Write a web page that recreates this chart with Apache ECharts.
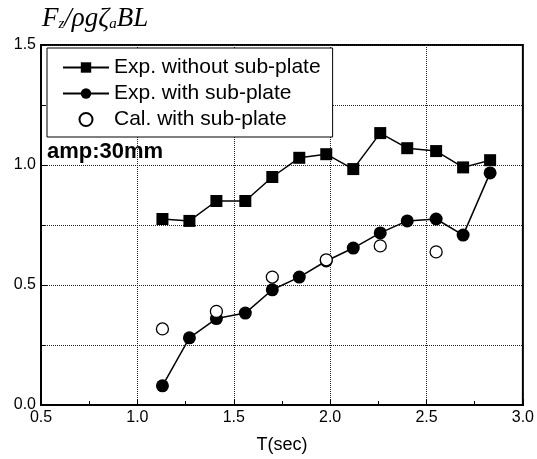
<!DOCTYPE html>
<html>
<head>
<meta charset="utf-8">
<script src="https://cdn.jsdelivr.net/npm/echarts@6/dist/echarts.min.js"></script>
<style>
  html, body { margin: 0; padding: 0; background: #fff; }
  #chart { width: 537px; height: 459px; }
</style>
</head>
<body>
<div id="chart"></div>
<script>
// periods T (sec) of the experiments
var periods = [1.13, 1.27, 1.41, 1.56, 1.70, 1.84, 1.98, 2.12, 2.26, 2.40, 2.55, 2.69, 2.83];
var expWithout = [0.775, 0.767, 0.85, 0.85, 0.95, 1.03, 1.045, 0.983, 1.133, 1.07, 1.058, 0.99, 1.02];
var expWith = [0.08, 0.28, 0.36, 0.383, 0.48, 0.533, 0.60, 0.654, 0.717, 0.767, 0.775, 0.708, 0.967];
// calculation only at some periods
var calPeriods = [1.13, 1.41, 1.70, 1.98, 2.26, 2.55];
var calWith = [0.317, 0.39, 0.533, 0.605, 0.663, 0.638];

var seriesNames = ['Exp. without sub-plate', 'Exp. with sub-plate', 'Cal. with sub-plate'];

function pairs(xs, ys) {
    return xs.map(function (x, i) { return [x, ys[i]]; });
}

var font = 'Liberation Sans, Arial, sans-serif';
var serif = 'Liberation Serif, DejaVu Serif, serif';
var myChart = echarts.init(document.getElementById('chart'));

var option = {
    animation: false,
    backgroundColor: '#fff',
    title: {
        left: 37,
        top: 0,
        text: '{i|F}{s|z}{i|/ρgζ}{s|a}{i|BL}',
        textStyle: {
            rich: {
                i: { fontFamily: serif, fontStyle: 'italic', fontWeight: 'normal', fontSize: 27, color: '#000' },
                s: { fontFamily: serif, fontStyle: 'italic', fontWeight: 'normal', fontSize: 15, color: '#000', verticalAlign: 'bottom', padding: [11, 0, 0, 0] }
            }
        }
    },
    grid: {
        left: 41, top: 45, right: 14, bottom: 54,
        show: true,
        borderColor: '#000',
        borderWidth: 2
    },
    legend: {
        data: seriesNames,
        orient: 'vertical',
        left: 47,
        top: 48,
        padding: [9, 12, 7, 15],
        itemGap: 5,
        itemWidth: 46,
        itemHeight: 13,
        backgroundColor: '#fff',
        borderColor: '#000',
        borderWidth: 1,
        textStyle: { fontFamily: font, fontSize: 21, color: '#000' }
    },
    graphic: [{
        type: 'text',
        left: 47,
        top: 141,
        style: { text: 'amp:30mm', font: 'bold 22px Liberation Sans, Arial, sans-serif', fill: '#000' }
    }],
    xAxis: {
        type: 'value',
        min: 0.5,
        max: 3.0,
        interval: 0.5,
        name: 'T(sec)',
        nameLocation: 'middle',
        nameGap: 31,
        nameTextStyle: { fontFamily: font, fontSize: 18, color: '#000' },
        axisLine: { show: true, lineStyle: { color: '#000', width: 2 } },
        axisTick: { inside: true, length: 6, lineStyle: { color: '#000' } },
        minorTick: { show: true, splitNumber: 2, length: 4, lineStyle: { color: '#000' } },
        axisLabel: {
            fontFamily: font, fontSize: 16, color: '#000', margin: 5,
            formatter: function (v) { return v.toFixed(1); }
        },
        splitLine: { show: true, lineStyle: { type: 'dotted', color: '#222', width: 1 } }
    },
    yAxis: {
        type: 'value',
        min: 0,
        max: 1.5,
        interval: 0.5,
        axisLine: { show: true, lineStyle: { color: '#000', width: 2 } },
        axisTick: { inside: true, length: 6, lineStyle: { color: '#000' } },
        minorTick: { show: true, splitNumber: 2, length: 4, lineStyle: { color: '#000' } },
        axisLabel: {
            fontFamily: font, fontSize: 16, color: '#000', margin: 5,
            formatter: function (v) { return v.toFixed(1); }
        },
        splitLine: { show: true, lineStyle: { type: 'dotted', color: '#222', width: 1 } },
        minorSplitLine: { show: true, lineStyle: { type: 'dotted', color: '#222', width: 1 } }
    },
    series: [
        {
            name: seriesNames[0],
            type: 'line',
            data: pairs(periods, expWithout),
            symbol: 'rect',
            symbolSize: 12,
            itemStyle: { color: '#000' },
            lineStyle: { color: '#000', width: 1.5 }
        },
        {
            name: seriesNames[1],
            type: 'line',
            data: pairs(periods, expWith),
            symbol: 'circle',
            symbolSize: 13,
            itemStyle: { color: '#000' },
            lineStyle: { color: '#000', width: 1.5 }
        },
        {
            name: seriesNames[2],
            type: 'scatter',
            data: pairs(calPeriods, calWith),
            symbol: 'circle',
            symbolSize: 12,
            z: 5,
            itemStyle: { color: '#fff', borderColor: '#000', borderWidth: 1.3, opacity: 1 }
        }
    ]
};

myChart.setOption(option);
</script>
</body>
</html>
